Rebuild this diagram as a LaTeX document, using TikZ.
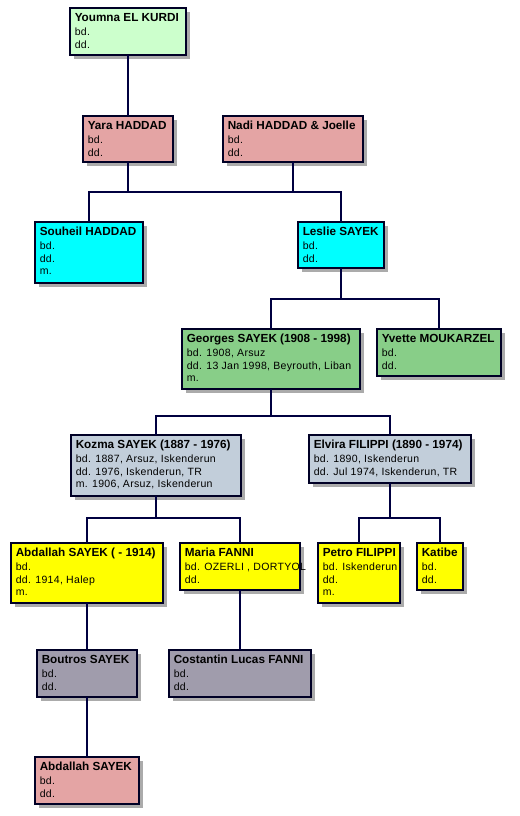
\documentclass[tikz,border=0pt]{standalone}
\usepackage{fontspec}
\setmainfont{Liberation Sans}
\newfontfamily\detfam{Liberation Sans}[LetterSpace=3]
\usetikzlibrary{calc,shadows}
\definecolor{cmint}{RGB}{204,255,204}
\definecolor{cpink}{RGB}{228,164,164}
\definecolor{ccyan}{RGB}{0,255,255}
\definecolor{cgreen}{RGB}{136,206,136}
\definecolor{csteel}{RGB}{194,206,218}
\definecolor{cyellow}{RGB}{255,255,0}
\definecolor{cmauve}{RGB}{160,156,172}
\definecolor{cline}{RGB}{0,0,64}
\newcommand\namefnt{\normalfont\bfseries\fontsize{8.8}{9.4}\selectfont}
\newcommand\fambox[7]{%
  \node[pbox, fill=#6, minimum width={(#4-#2)*0.75pt}, minimum height={(#5-#3)*0.75pt}, anchor=north west] (#1) at (#2,#3) {};
  \node[ptext, anchor=north west] (#1t) at ($(#1.north west)+(4.5,5)$) {#7};
}
\tikzset{
  pbox/.style={draw=black!85!blue, line width=0.8pt, inner sep=0pt, outer sep=0pt,
    drop shadow={shadow xshift=2.8pt, shadow yshift=-2.8pt, fill=black, opacity=0.33}},
  ptext/.style={inner sep=0pt, align=left, font=\detfam\fontsize{7.9}{9.4}\selectfont},
  conn/.style={draw=cline, line width=1.1pt}
}
\begin{document}
\begin{tikzpicture}[x=0.75pt,y=-0.75pt]
\useasboundingbox (0,0) rectangle (519,816);
\fill[white] (0,0) rectangle (519,816);
\coordinate (h1) at (0,192);
\coordinate (h2) at (0,299);
\coordinate (h3) at (0,416);
\coordinate (h4) at (0,518);
% boxes
\fambox{youmna}{70}{8}{186}{55}{cmint}{{\namefnt Youmna EL KURDI}\\[1.2pt] bd.\\ dd.}
\fambox{yara}{83}{116}{173}{162}{cpink}{{\namefnt Yara HADDAD}\\[1.2pt] bd.\\ dd.}
\fambox{nadi}{223}{116}{363}{162}{cpink}{{\namefnt Nadi HADDAD \& Joelle}\\[1.2pt] bd.\\ dd.}
\fambox{souheil}{35}{222}{143}{283}{ccyan}{{\namefnt Souheil HADDAD}\\[1.2pt] bd.\\ dd.\\ m.}
\fambox{leslie}{298}{222}{384}{268}{ccyan}{{\namefnt Leslie SAYEK}\\[1.2pt] bd.\\ dd.}
\fambox{georges}{182}{329}{360}{389}{cgreen}{{\namefnt Georges SAYEK (1908 - 1998)}\\[1.2pt] bd. 1908, Arsuz\\ dd. 13 Jan 1998, Beyrouth, Liban\\ m.}
\fambox{yvette}{377}{329}{501}{376}{cgreen}{{\namefnt Yvette MOUKARZEL}\\[1.2pt] bd.\\ dd.}
\fambox{kozma}{71}{435}{241}{496}{csteel}{{\namefnt Kozma SAYEK (1887 - 1976)}\\[1.2pt] bd. 1887, Arsuz, Iskenderun\\ dd. 1976, Iskenderun, TR\\ m. 1906, Arsuz, Iskenderun}
\fambox{elvira}{309}{435}{471}{483}{csteel}{{\namefnt Elvira FILIPPI (1890 - 1974)}\\[1.2pt] bd. 1890, Iskenderun\\ dd. Jul 1974, Iskenderun, TR}
\fambox{abdallahA}{11}{543}{163}{603}{cyellow}{{\namefnt Abdallah SAYEK ( - 1914)}\\[1.2pt] bd.\\ dd. 1914, Halep\\ m.}
\fambox{maria}{180}{543}{300}{590}{cyellow}{{\namefnt Maria FANNI}\\[1.2pt] bd. OZERLI , DORTYOL\\ dd.}
\fambox{petro}{318}{543}{400}{603}{cyellow}{{\namefnt Petro FILIPPI}\\[1.2pt] bd. Iskenderun\\ dd.\\ m.}
\fambox{katibe}{417}{543}{463}{590}{cyellow}{{\namefnt Katibe}\\[1.2pt] bd.\\ dd.}
\fambox{boutros}{37}{650}{137}{697}{cmauve}{{\namefnt Boutros SAYEK}\\[1.2pt] bd.\\ dd.}
\fambox{costantin}{169}{650}{311}{697}{cmauve}{{\namefnt Costantin Lucas FANNI}\\[1.2pt] bd.\\ dd.}
\fambox{abdallahB}{35}{757}{139}{804}{cpink}{{\namefnt Abdallah SAYEK}\\[1.2pt] bd.\\ dd.}
% connectors
\draw[conn] (youmna.south) -- (youmna.south |- yara.north);
\draw[conn] (yara.south) -- (yara.south |- h1);
\draw[conn] (nadi.south) -- (nadi.south |- h1);
\draw[conn] (souheil.north) -- (souheil.north |- h1) -- (leslie.north |- h1) -- (leslie.north);
\draw[conn] (leslie.south) -- (leslie.south |- h2);
\draw[conn] (georges.north) -- (georges.north |- h2) -- (yvette.north |- h2) -- (yvette.north);
\draw[conn] (georges.south) -- (georges.south |- h3);
\draw[conn] (kozma.north) -- (kozma.north |- h3) -- (elvira.north |- h3) -- (elvira.north);
\draw[conn] (kozma.south) -- (kozma.south |- h4);
\draw[conn] (abdallahA.north) -- (abdallahA.north |- h4) -- (maria.north |- h4) -- (maria.north);
\draw[conn] (elvira.south) -- (elvira.south |- h4);
\draw[conn] (petro.north) -- (petro.north |- h4) -- (katibe.north |- h4) -- (katibe.north);
\draw[conn] (abdallahA.south) -- (abdallahA.south |- boutros.north);
\draw[conn] (maria.south) -- (maria.south |- costantin.north);
\draw[conn] (boutros.south) -- (boutros.south |- abdallahB.north);
\end{tikzpicture}
\end{document}
